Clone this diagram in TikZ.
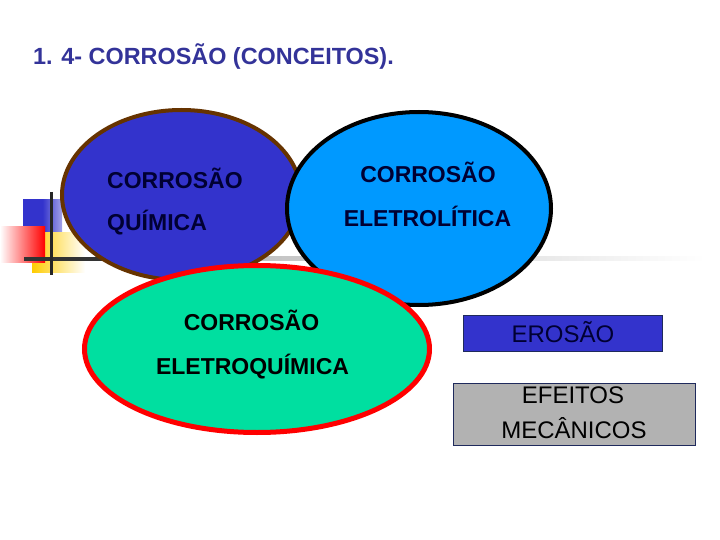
\documentclass[tikz,border=0pt]{standalone}
\usepackage{fontspec}
\setmainfont{Liberation Sans}
\usetikzlibrary{shapes.geometric}
\definecolor{dblue}{HTML}{3333CC}
\definecolor{brownb}{HTML}{663300}
\definecolor{skyb}{HTML}{0099FF}
\definecolor{mint}{HTML}{00DFA0}
\definecolor{navytxt}{HTML}{000033}
\definecolor{titlec}{HTML}{333399}
\definecolor{yel}{HTML}{FFCC00}
\definecolor{boxgray}{HTML}{B2B2B2}
\definecolor{boxedge}{HTML}{1F2A5C}
\tikzset{
  oval/.style={ellipse, inner sep=0pt},
  ovaltxt/.style={font=\fontsize{23}{27}\selectfont\bfseries, text=navytxt, inner sep=0pt},
  boxtxt/.style={font=\fontsize{24}{28}\selectfont, inner sep=0pt},
}
\begin{document}
\begin{tikzpicture}[x=1pt,y=-1pt]
\useasboundingbox (0,0) rectangle (720,540);
\fill[white] (0,0) rectangle (720,540);
% title
\node[anchor=base west, font=\fontsize{23.4}{28}\selectfont\bfseries, text=titlec, inner sep=0pt] (title) at (33,65) {1. 4- CORROSÃO (CONCEITOS).};
% decoration
\shade[left color=dblue, right color=dblue!45!white, middle color=dblue] (23,200) rectangle (62,233);
\shade[left color=yel, right color=white] (32,232) rectangle (85,272);
\shade[left color=white, right color=red] (0,227) rectangle (45,262);
\shade[left color=gray!65, right color=white] (95,256) rectangle (705,260);
\draw[line width=4pt, color=black!80] (24,259) -- (120,259);
\draw[line width=3pt, color=black!85] (51,192) -- (51,275);
% ellipses
\node[oval, draw=brownb, fill=dblue, line width=4pt, minimum width=239, minimum height=170] (quim) at (181.5,195) {};
\node[oval, draw=black, fill=skyb, line width=4pt, minimum width=264, minimum height=193] (eletrol) at (419,208.5) {};
\node[oval, draw=red, fill=mint, line width=5pt, minimum width=345, minimum height=167] (eletroq) at (257,349) {};
% ellipse texts
\node[ovaltxt, anchor=base west] (q1) at (107,189) {CORROSÃO};
\node[ovaltxt, anchor=base west] (q2) at (107,230) {QUÍMICA};
\node[ovaltxt, anchor=base] (e1) at (428,183) {CORROSÃO};
\node[ovaltxt, anchor=base] (e2) at (427.5,226) {ELETROLÍTICA};
\node[ovaltxt, anchor=base, text=black] (g1) at (251.5,330.5) {CORROSÃO};
\node[ovaltxt, anchor=base, text=black] (g2) at (252.5,374) {ELETROQUÍMICA};
% boxes
\node[draw=boxedge, fill=dblue, line width=0.8pt, minimum width=199, minimum height=36, inner sep=0pt, anchor=north west] (eros) at (463,315) {};
\node[boxtxt, anchor=base, text=navytxt] (erost) at (563,342) {EROSÃO};
\node[draw=boxedge, fill=boxgray, line width=0.8pt, minimum width=242, minimum height=62, inner sep=0pt, anchor=north west] (efe) at (452.5,383) {};
\node[boxtxt, anchor=base, text=black] (efe1) at (573,403) {EFEITOS};
\node[boxtxt, anchor=base, text=black] (efe2) at (574,438) {MECÂNICOS};
\end{tikzpicture}
\end{document}
